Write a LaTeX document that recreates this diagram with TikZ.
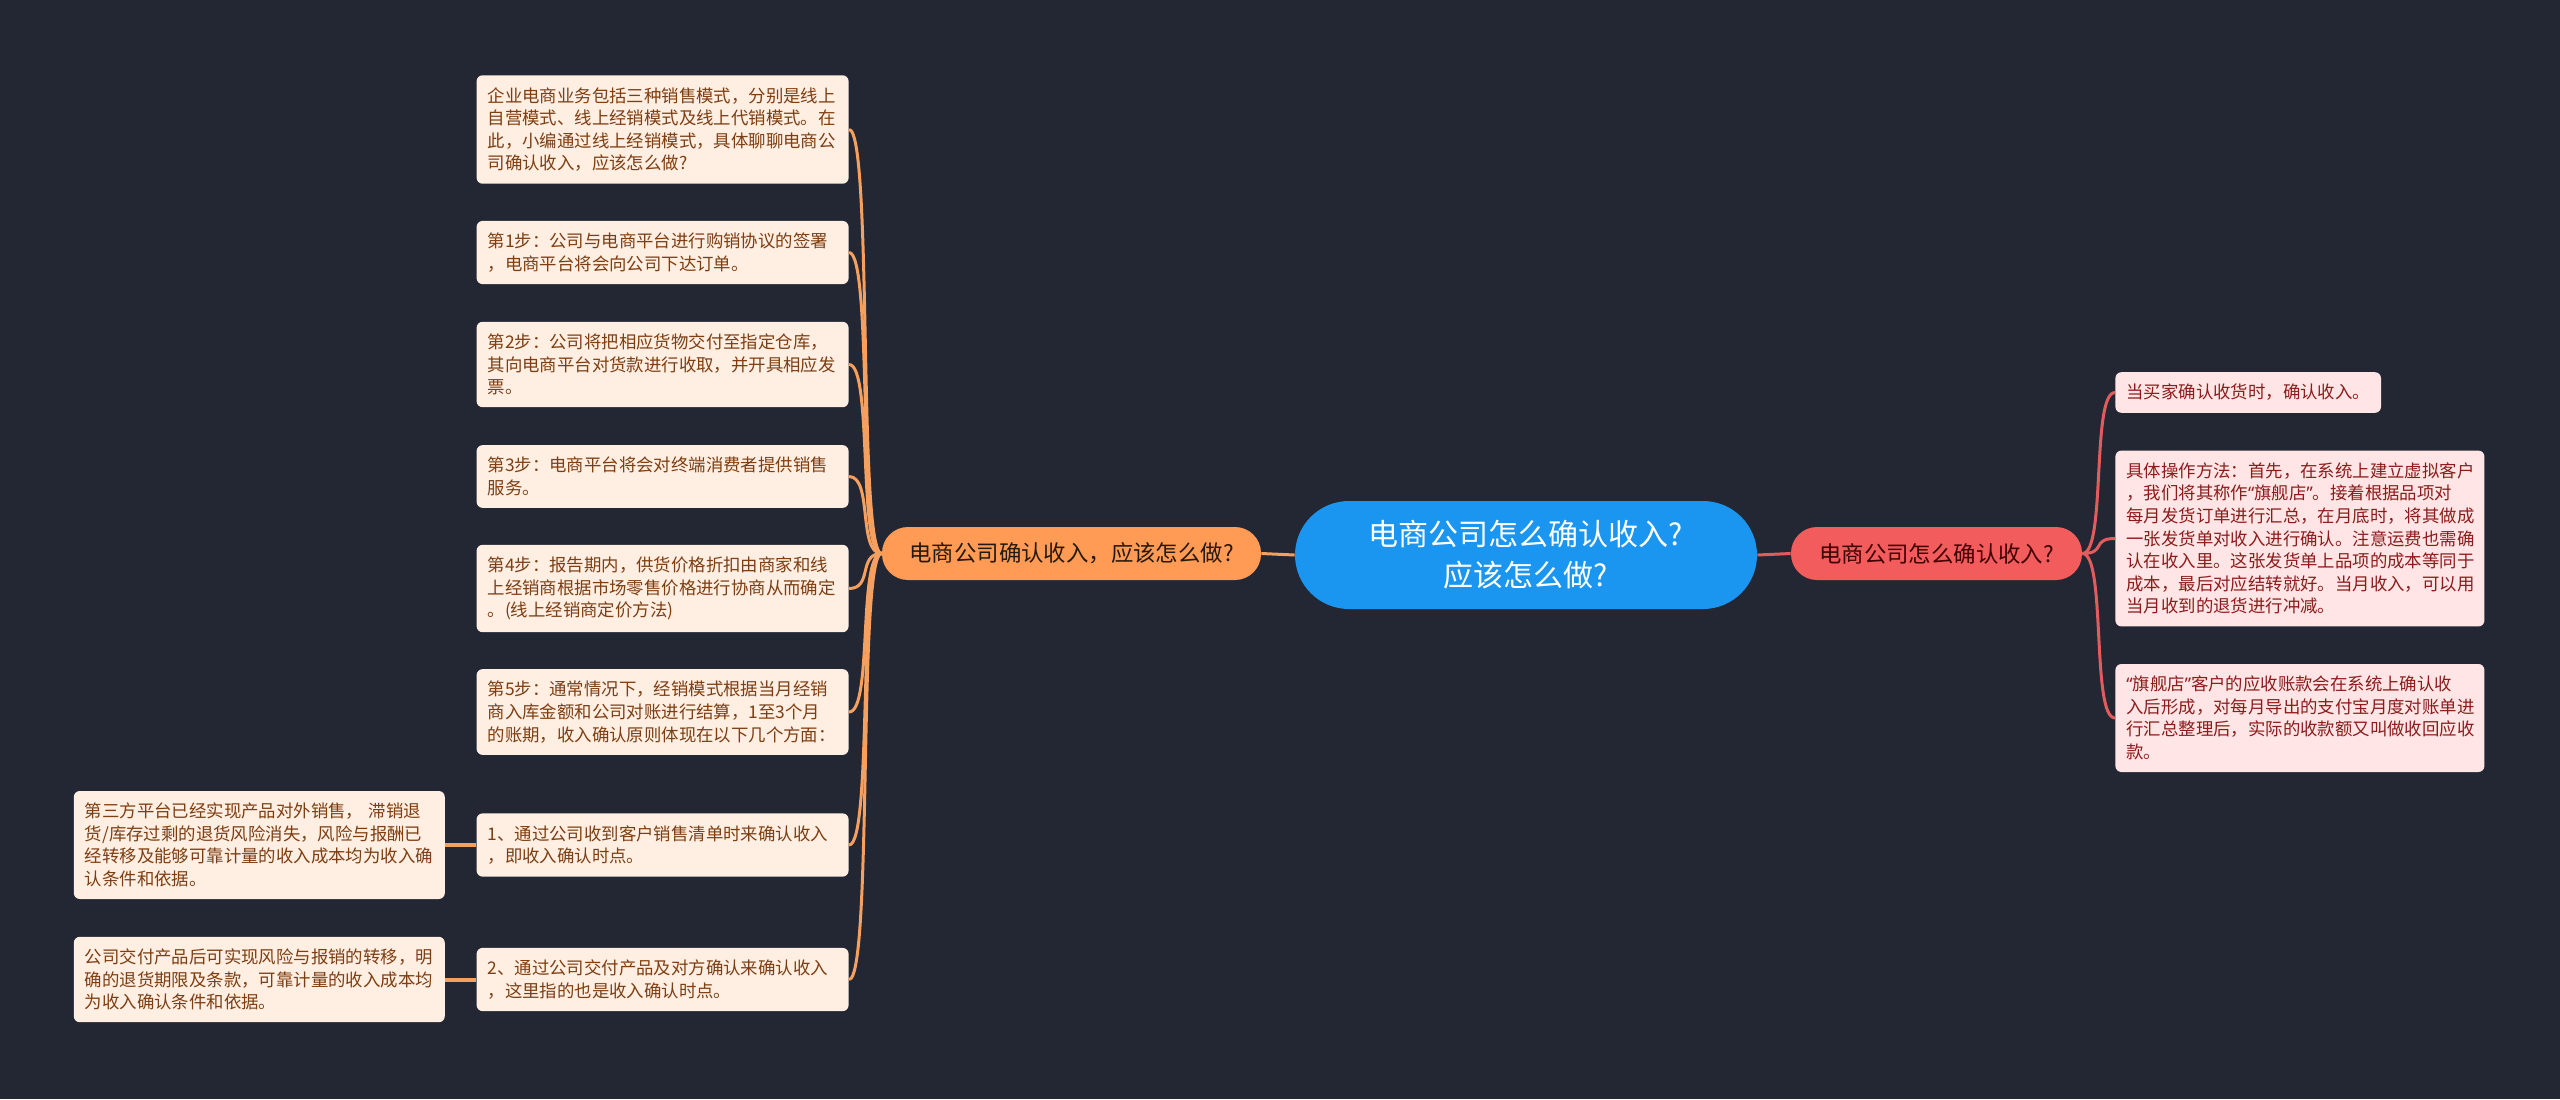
\documentclass[tikz,border=0pt]{standalone}
\usepackage{fontspec}
\setmainfont{Noto Sans CJK SC}
\newfontfamily\quotefont{Noto Sans}
\usepackage{xcolor}
\usetikzlibrary{positioning}
\definecolor{bgnavy}{RGB}{34,39,51}
\definecolor{rootblue}{RGB}{27,150,240}
\definecolor{lorange}{RGB}{255,155,85}
\definecolor{rred}{RGB}{242,92,92}
\definecolor{lfill}{RGB}{255,238,226}
\definecolor{ltext}{RGB}{125,62,18}
\definecolor{rfill}{RGB}{255,229,229}
\definecolor{rtext}{RGB}{140,28,28}
\definecolor{lwire}{RGB}{245,160,95}
\definecolor{rwire}{RGB}{225,92,92}
\newcommand{\openq}{{\quotefont “}}
\newcommand{\closeq}{{\quotefont ”}}

\begin{document}
\begin{tikzpicture}[x=0.5pt, y=-0.5pt,
    root/.style={fill=rootblue, text=white, rounded corners=27pt, minimum width=231pt, minimum height=54pt, align=center, font=\fontsize{15}{20.5}\selectfont},
    lbr/.style={fill=lorange, text=black!80!brown, rounded corners=13pt, minimum width=189.5pt, minimum height=26.5pt, font=\fontsize{11.2}{14}\selectfont},
    rbr/.style={fill=rred, text=black!75!red, rounded corners=13pt, minimum width=145.5pt, minimum height=26.5pt, font=\fontsize{11.2}{14}\selectfont},
    lleaf/.style={fill=lfill, text=ltext, rounded corners=3pt, text width=175pt, align=left, inner xsep=5.5pt, inner ysep=6pt, font=\fontsize{8.7}{11.3}\selectfont},
    rleaf/.style={fill=rfill, text=rtext, rounded corners=3pt, align=left, inner xsep=5.5pt, inner ysep=6pt, font=\fontsize{8.7}{11.3}\selectfont},
    lwire/.style={draw=lwire, line width=1.5pt},
    rwire/.style={draw=rwire, line width=1.5pt}
]

% 背景
\fill[bgnavy] (0,0) rectangle (2560,1099);
\useasboundingbox (0,0) rectangle (2560,1099);

% 中心
\node[root] (root) at (1526,555) {电商公司怎么确认收入?\\应该怎么做?};

% 两个分支
\node[lbr] (lb) at (1071.5,553.5) {电商公司确认收入，应该怎么做?};
\node[rbr] (rb) at (1936.5,553.5) {电商公司怎么确认收入?};

% 左侧：步骤
\node[lleaf, anchor=east] (intro) at (849,129.5) {企业电商业务包括三种销售模式，分别是线上\\自营模式、线上经销模式及线上代销模式。在\\此，小编通过线上经销模式，具体聊聊电商公\\司确认收入，应该怎么做?};
\node[lleaf, anchor=east] (st1) at (849,252.5) {第1步：公司与电商平台进行购销协议的签署\\，电商平台将会向公司下达订单。};
\node[lleaf, anchor=east] (st2) at (849,364.5) {第2步：公司将把相应货物交付至指定仓库，\\其向电商平台对货款进行收取，并开具相应发\\票。};
\node[lleaf, anchor=east] (st3) at (849,476.5) {第3步：电商平台将会对终端消费者提供销售\\服务。};
\node[lleaf, anchor=east] (st4) at (849,588.5) {第4步：报告期内，供货价格折扣由商家和线\\上经销商根据市场零售价格进行协商从而确定\\。(线上经销商定价方法)};
\node[lleaf, anchor=east] (st5) at (849,712) {第5步：通常情况下，经销模式根据当月经销\\商入库金额和公司对账进行结算，1至3个月\\的账期，收入确认原则体现在以下几个方面：};
\node[lleaf, anchor=east] (way1) at (849,845) {1、通过公司收到客户销售清单时来确认收入\\，即收入确认时点。};
\node[lleaf, anchor=east] (way2) at (849,979.5) {2、通过公司交付产品及对方确认来确认收入\\，这里指的也是收入确认时点。};

% 最左：确认条件
\node[lleaf, text width=174.5pt, left=15.5pt of way1] (cond1) {第三方平台已经实现产品对外销售， 滞销退\\货/库存过剩的退货风险消失，风险与报酬已\\经转移及能够可靠计量的收入成本均为收入确\\认条件和依据。};
\node[lleaf, text width=174.5pt, left=15.5pt of way2] (cond2) {公司交付产品后可实现风险与报销的转移，明\\确的退货期限及条款，可靠计量的收入成本均\\为收入确认条件和依据。};

% 右侧
\node[rleaf, anchor=west] (r1) at (2115,392.5) {当买家确认收货时，确认收入。};
\node[rleaf, anchor=west, text width=173.5pt] (r2) at (2115,538.5) {具体操作方法：首先，在系统上建立虚拟客户\\，我们将其称作\openq 旗舰店\closeq 。接着根据品项对\\每月发货订单进行汇总，在月底时，将其做成\\一张发货单对收入进行确认。注意运费也需确\\认在收入里。这张发货单上品项的成本等同于\\成本，最后对应结转就好。当月收入，可以用\\当月收到的退货进行冲减。};
\node[rleaf, anchor=west, text width=173.5pt] (r3) at (2115,718) {\openq 旗舰店\closeq 客户的应收账款会在系统上确认收\\入后形成，对每月导出的支付宝月度对账单进\\行汇总整理后，实际的收款额又叫做收回应收\\款。};

% 连线
\draw[lwire] (root.west) -- (lb.east);
\draw[rwire] (root.east) -- (rb.west);
\foreach \n in {intro,st1,st2,st3,st4,st5,way1,way2}
  \draw[lwire] (lb.west) .. controls +(-24,0) and +(24,0) .. (\n.east);
\foreach \n in {r1,r2,r3}
  \draw[rwire] (rb.east) .. controls +(24,0) and +(-24,0) .. (\n.west);
\draw[lwire, line width=2pt] (way1.west) -- (cond1.east);
\draw[lwire, line width=2pt] (way2.west) -- (cond2.east);

\end{tikzpicture}
\end{document}
